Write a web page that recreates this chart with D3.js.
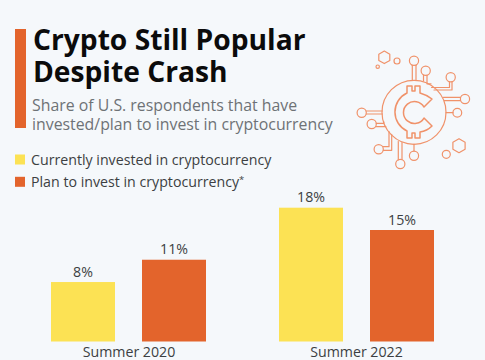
<!DOCTYPE html>
<html><head><meta charset="utf-8">
<script src="https://cdn.jsdelivr.net/npm/d3@7"></script>
<style>html,body{margin:0;padding:0;background:#f5f8fb}svg{display:block}text{font-family:"Open Sans",sans-serif}</style>
</head><body><div id="c"></div>
<script>
const categories = ["Summer 2020","Summer 2022"];
const seriesNames = ["Currently invested in cryptocurrency","Plan to invest in cryptocurrency"];
const currentlyInvested = [8,18];
const planToInvest = [11,15];
const colors = ["#fce254","#e3642c"];
const titleLines = ["Crypto Still Popular","Despite Crash"];
const subtitleLines = ["Share of U.S. respondents that have","invested/plan to invest in cryptocurrency"];

const svg = d3.select("#c").append("svg").attr("width",485).attr("height",360);
svg.append("rect").attr("width",485).attr("height",360).attr("fill","#f5f8fb");

// header
svg.append("rect").attr("x",15).attr("y",29).attr("width",11).attr("height",99).attr("fill",colors[1]);
titleLines.forEach((t,i)=>svg.append("text").attr("x",33).attr("y",[50,81.5][i]).attr("font-size",28.2).attr("font-weight",700).attr("fill","#0b0b0b").text(t));
subtitleLines.forEach((t,i)=>svg.append("text").attr("x",32).attr("y",[110.5,129.5][i]).attr("font-size",15.85).attr("fill","#6e7276").text(t));

// legend
seriesNames.forEach((t,i)=>{
  const y=[164.5,186.8][i];
  svg.append("rect").attr("x",15).attr("y",y-10).attr("width",10).attr("height",10).attr("fill",colors[i]);
  const tx=svg.append("text").attr("x",31).attr("y",y+0.5).attr("font-size",14.2).attr("fill","#3c3f42").text(t);
  if(i===1) tx.append("tspan").attr("font-size",9.5).attr("dy",-4).text("*");
});

// chart
const y=d3.scaleLinear().domain([0,18]).range([341.5,207.7]);
const xGroup=d3.scaleOrdinal().domain(categories).range([51,279]);
const barW=64, step=91;
const series=[currentlyInvested,planToInvest];
const data=series.flatMap((vals,s)=>vals.map((v,c)=>({v,s,c})));
const xPos=d=>xGroup(categories[d.c])+d.s*step;
svg.selectAll("rect.bar").data(data).join("rect").attr("class","bar")
  .attr("x",xPos).attr("y",d=>y(d.v)).attr("width",barW).attr("height",d=>y(0)-y(d.v)).attr("fill",d=>colors[d.s]);
svg.selectAll("text.val").data(data).join("text").attr("class","val")
  .attr("x",d=>xPos(d)+barW/2).attr("y",d=>y(d.v)-5.5).attr("text-anchor","middle").attr("font-size",14.2).attr("fill","#3c3f42").text(d=>d.v+"%");
const axis=d3.axisBottom(d3.scalePoint().domain(categories).range([128.5,356])).tickSize(0).tickPadding(0);
const ag=svg.append("g").attr("transform","translate(0,343)").call(axis);
ag.select(".domain").remove();
ag.selectAll("text").attr("y",14).attr("dy",0).attr("font-size",14.2).attr("fill","#3c3f42").style("font-family",'"Open Sans",sans-serif');

// decorative icon
const ic=svg.append("g").attr("fill","none").attr("stroke","#f0926a").attr("stroke-width",1.2).attr("stroke-linecap","round").attr("stroke-linejoin","round");
ic.append("circle").attr("cx",414).attr("cy",112.3).attr("r",32);
ic.append("path").attr("stroke-width",1.5).attr("d","M407 86h5v5h3v-5h5v7Q427 95 432 99L424 107A11 11 0 1 0 424 118L432 126Q427 131 420 132v6h-5v-5h-3v5h-5v-7A21 21 0 0 1 407 93Z");
[[414,60.7,4.6],[425.7,70.7,4.6],[450.7,77.3,4.6],[465,99,4.6],[457.3,112.7,4.4],[361.7,112.7,4.6],[371.7,124,4.6],[378.7,149.3,4.6],[400.3,164,4.6],[414,155.7,4.6],[446.3,154.3,4],[397,61,3],[377.7,66.7,1.7]]
  .forEach(c=>ic.append("circle").attr("cx",c[0]).attr("cy",c[1]).attr("r",c[2]));
ic.append("path").attr("d","M384.300 51l5.500 3.150v6.300l-5.500 3.150-5.500-3.150v-6.300zM459 138.700l6.100 3.500v7l-6.100 3.500-6.100-3.500v-7z");
["M412.300 65.300v15","M416 65.300v15","M423.500 75v6","M427 75.300v8.500l4 0","M449.500 82v5.500h-18","M452 82v8h-18","M460.400 97.300h-17","M460.400 100.700h-16","M453 112.700h-7","M366.300 111h16","M366.300 114h16","M376.300 123.300h7.500v-1.500","M376.300 126.700h9.500","M383.300 150.300h8.400v-16","M383.300 146.700h5.700v-15","M398.300 160v-18.500","M402 159.500v-17","M414 151v-7"]
  .forEach(d=>ic.append("path").attr("d",d));
</script></body></html>
